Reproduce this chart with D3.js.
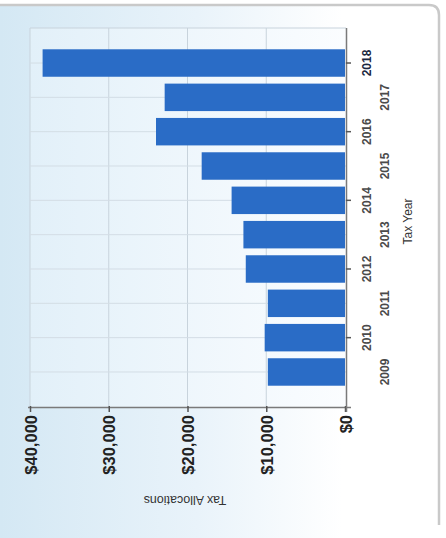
<!DOCTYPE html>
<html>
<head>
<meta charset="utf-8">
<script src="https://cdn.jsdelivr.net/npm/d3@7"></script>
<style>
  html, body { margin: 0; padding: 0; background: #ffffff; }
  svg { display: block; font-family: "Liberation Sans", Arial, sans-serif; }
</style>
</head>
<body>
<svg id="chart" width="446" height="538"></svg>
<script>
// ---- data ----
const years = ["2009", "2010", "2011", "2012", "2013", "2014", "2015", "2016", "2017", "2018"];
const allocations = [9800, 10200, 9800, 12600, 12900, 14400, 18200, 24000, 22900, 38400];
const valueTicks = [0, 10000, 20000, 30000, 40000];
const valueTitle = "Tax Allocations";
const categoryTitle = "Tax Year";

const svg = d3.select("#chart");
const defs = svg.append("defs");

const cardGrad = defs.append("linearGradient").attr("id", "cardGrad")
  .attr("x1", "0").attr("y1", "0").attr("x2", "1").attr("y2", "0");
cardGrad.append("stop").attr("offset", "0%").attr("stop-color", "#d4e8f4");
cardGrad.append("stop").attr("offset", "45%").attr("stop-color", "#e9f3fa");
cardGrad.append("stop").attr("offset", "78%").attr("stop-color", "#ffffff");
cardGrad.append("stop").attr("offset", "100%").attr("stop-color", "#ffffff");

const plotGrad = defs.append("linearGradient").attr("id", "plotGrad")
  .attr("x1", "0").attr("y1", "0").attr("x2", "1").attr("y2", "0");
plotGrad.append("stop").attr("offset", "0%").attr("stop-color", "#e2f0f9");
plotGrad.append("stop").attr("offset", "100%").attr("stop-color", "#fbfdff");

// card
const cardR = 10, cardRight = 439, cardTop = 5;
svg.append("rect").attr("x", 0).attr("y", cardTop).attr("width", cardRight).attr("height", 538 - cardTop)
  .attr("fill", "url(#cardGrad)");
svg.append("path")
  .attr("d", `M0,${cardTop} L${cardRight - cardR},${cardTop} Q${cardRight},${cardTop} ${cardRight},${cardTop + cardR} L${cardRight},525`)
  .attr("fill", "none").attr("stroke", "#c9c9c9").attr("stroke-width", 2.5);

// plot geometry
const plot = { left: 30, right: 346, top: 28, bottom: 407 };

const x = d3.scaleLinear().domain([0, 40000]).range([345, 30]);
const y = d3.scaleBand().domain(years.slice().reverse())
  .range([plot.top, plot.bottom]).paddingInner(0.2).paddingOuter(0.62);

svg.append("rect").attr("x", plot.left).attr("y", plot.top)
  .attr("width", plot.right - plot.left).attr("height", plot.bottom - plot.top)
  .attr("fill", "url(#plotGrad)");

// grid lines
svg.append("g").selectAll("line").data(valueTicks.filter(d => d > 0)).join("line")
  .attr("x1", d => x(d)).attr("x2", d => x(d))
  .attr("y1", plot.top).attr("y2", plot.bottom)
  .attr("stroke", "#c8d3dc").attr("stroke-width", 1);
svg.append("g").selectAll("line").data(years).join("line")
  .attr("x1", plot.left).attr("x2", plot.right)
  .attr("y1", d => y(d) + y.bandwidth() / 2).attr("y2", d => y(d) + y.bandwidth() / 2)
  .attr("stroke", "#d3dde5").attr("stroke-width", 1);
svg.append("line").attr("x1", plot.left).attr("x2", plot.right)
  .attr("y1", plot.top).attr("y2", plot.top).attr("stroke", "#c8d3dc");

// bars
svg.append("g").selectAll("rect").data(years).join("rect")
  .attr("x", (d, i) => x(allocations[i]))
  .attr("y", d => y(d))
  .attr("width", (d, i) => x(0) - x(allocations[i]))
  .attr("height", y.bandwidth())
  .attr("fill", "#2a6cc6");

// value axis (bottom)
const gx = svg.append("g").attr("transform", `translate(0,${plot.bottom})`)
  .call(d3.axisBottom(x).tickValues(valueTicks).tickFormat(d3.format("$,")).tickSize(5).tickSizeOuter(0));
gx.select(".domain").attr("stroke", "#7a7a7a").attr("stroke-width", 1.5)
  .attr("d", `M${plot.left - 2},0.5H${plot.right + 5}`);
gx.selectAll(".tick line").attr("stroke", "#555").attr("stroke-width", 1.5).attr("y1", -1);
gx.selectAll(".tick text")
  .attr("x", null).attr("y", null).attr("dy", null)
  .attr("transform", "translate(0,8) rotate(-90)")
  .attr("text-anchor", "end").attr("dominant-baseline", "central")
  .attr("font-size", 16.5).attr("font-weight", "bold").attr("fill", "#222");

// category axis (right)
const gy = svg.append("g").attr("transform", `translate(${plot.right},0)`)
  .call(d3.axisRight(y).tickSize(5).tickSizeOuter(0));
gy.select(".domain").attr("stroke", "#7a7a7a").attr("stroke-width", 1.5)
  .attr("d", `M0.5,${plot.top}V${plot.bottom + 5}`);
gy.selectAll(".tick line").attr("stroke", "#555").attr("stroke-width", 1.5)
  .attr("opacity", d => (+d % 2 === 0 ? 1 : 0));
gy.selectAll(".tick text")
  .attr("x", null).attr("y", null).attr("dy", null)
  .attr("transform", d => `translate(${+d % 2 === 0 ? 21 : 39},0) rotate(-90)`)
  .attr("text-anchor", "middle").attr("dominant-baseline", "central")
  .attr("font-size", 12).attr("font-weight", "bold")
  .attr("fill", d => (d === "2018" ? "#1b2740" : "#4a4a4a"));

// axis titles
svg.append("text").attr("transform", `translate(408,${(plot.top + plot.bottom) / 2 + 4}) rotate(-90)`)
  .attr("text-anchor", "middle").attr("dominant-baseline", "central")
  .attr("font-size", 12).attr("fill", "#333").text(categoryTitle);
svg.append("text").attr("transform", `translate(185,500) rotate(180)`)
  .attr("text-anchor", "middle").attr("dominant-baseline", "central")
  .attr("font-size", 12.5).attr("fill", "#333").text(valueTitle);
</script>
</body>
</html>
